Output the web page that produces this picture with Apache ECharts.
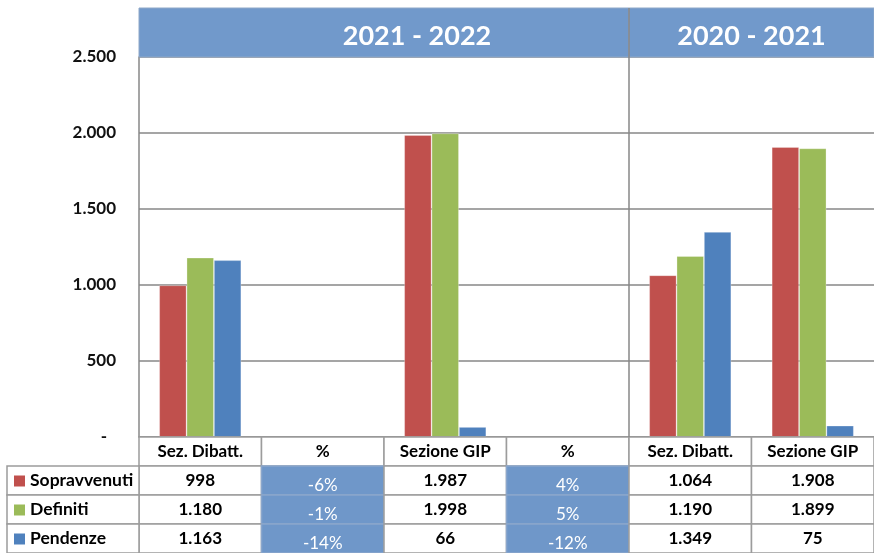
<!DOCTYPE html>
<html>
<head>
<meta charset="utf-8">
<script src="https://cdn.jsdelivr.net/npm/echarts@6/dist/echarts.min.js"></script>
<style>
html,body{margin:0;padding:0;background:#fff;}
#c{width:874px;height:553px;}
</style>
</head>
<body>
<div id="c"></div>
<script>
// ---- data ----
var categories = ['Sez. Dibatt.', '%', 'Sezione GIP', '%', 'Sez. Dibatt.', 'Sezione GIP'];
var seriesNames = ['Sopravvenuti', 'Definiti', 'Pendenze'];
var sopravvenuti = [998, null, 1987, null, 1064, 1908];
var definiti     = [1180, null, 1998, null, 1190, 1899];
var pendenze     = [1163, null, 66, null, 1349, 75];
var pctSopravvenuti = ['-6%', null, '4%', null, null, null];
var pctDefiniti     = ['-1%', null, '5%', null, null, null];
var pctPendenze     = ['-14%', null, '-12%', null, null, null];
var periods = [['2021 - 2022', 0, 3], ['2020 - 2021', 4, 5]];
var yTicks = [0, 500, 1000, 1500, 2000, 2500];

// ---- styles ----
var colors = ['#C0504D', '#9BBB59', '#4F81BD'];
var FONT = 'Lato, "Open Sans", sans-serif';
var headerBlue = '#7199CB';
var cellBlue = '#6F97C9';
var gridColor = '#878787';
var tableBorder = '#9c9c9c';

function fmt(v) {
  if (v === 0) return '-';
  return String(v).replace(/\B(?=(\d{3})+(?!\d))/g, '.');
}

var valueRows = [sopravvenuti, definiti, pendenze];
var pctRows = [pctSopravvenuti, pctDefiniti, pctPendenze];
var tableData = [];
for (var c = 0; c < categories.length; c++) {
  tableData.push([c, 0, categories[c], 'head']);
}
for (var r = 0; r < 3; r++) {
  for (var c2 = 0; c2 < categories.length; c2++) {
    if (categories[c2] === '%') {
      var src = pctRows[r][c2 - 1];
      tableData.push([c2, r + 1, src, 'pct']);
    } else {
      tableData.push([c2, r + 1, fmt(valueRows[r][c2]), 'val']);
    }
  }
}
var legendData = seriesNames.map(function (n, i) { return [0, i + 1, n, i]; });

var chart = echarts.init(document.getElementById('c'), null, {renderer: 'canvas'});

var barSeries = seriesNames.map(function (n, i) {
  return {
    name: n, type: 'bar', xAxisIndex: 0, yAxisIndex: 0,
    data: valueRows[i],
    barGap: '0%', barCategoryGap: '33%',
    itemStyle: {color: colors[i], borderColor: 'rgba(255,255,255,0.35)', borderWidth: 0.8},
    silent: true
  };
});

var option = {
  animation: false,
  backgroundColor: '#fff',
  grid: [
    {left: 139, right: 0, top: 57, height: 380},
    {left: 139, right: 0, top: 437, height: 116}
  ],
  xAxis: [
    {type: 'category', gridIndex: 0, data: categories,
      axisLine: {show: true, lineStyle: {color: gridColor, width: 1.5}},
      axisTick: {show: false}, axisLabel: {show: false}},
    {type: 'category', gridIndex: 1, data: categories, show: false}
  ],
  yAxis: [
    {type: 'value', gridIndex: 0, min: 0, max: 2500, interval: 500,
      axisLine: {show: true, lineStyle: {color: gridColor, width: 1.5}},
      axisTick: {show: false},
      splitLine: {show: true, lineStyle: {color: gridColor, width: 1.5}},
      axisLabel: {formatter: function (v) { return v === 0 ? '{z|-}' : fmt(v); }, margin: 23,
        fontFamily: FONT, fontWeight: 'bold', fontSize: 17, color: '#111',
        rich: {z: {fontFamily: FONT, fontWeight: 'bold', fontSize: 17, color: '#111', padding: [0, 9, 0, 0]}}}},
    {type: 'category', gridIndex: 1, data: ['head'].concat(seriesNames), inverse: true, show: false}
  ],
  series: barSeries.concat([
    {
      type: 'custom', xAxisIndex: 0, yAxisIndex: 0, silent: true, z: 5,
      data: periods.map(function (p) { return [p[1], 2500, p[2], p[0]]; }),
      encode: {x: 0, y: 1},
      renderItem: function (params, api) {
        var s = api.value(0), e = api.value(2);
        var w = api.size([1, 0])[0];
        var p1 = api.coord([s, 2500]);
        var p2 = api.coord([e, 2500]);
        var p0 = api.coord([s, 0]);
        var x0 = p1[0] - w / 2, x1 = p2[0] + w / 2;
        var top = p1[1] - 49;
        var labelOffset = params.dataIndex === 0 ? 33 : 0;
        var children = [
          {type: 'rect', shape: {x: x0, y: top, width: x1 - x0, height: 49},
            style: {fill: headerBlue, stroke: '#8fa8c8', lineWidth: 1}},
          {type: 'text', x: (x0 + x1) / 2 + labelOffset, y: top + 28,
            style: {text: periods[params.dataIndex][0], fill: '#fff', fontFamily: FONT,
              fontWeight: 'bold', fontSize: 27, align: 'center', verticalAlign: 'middle'}}
        ];
        if (params.dataIndex > 0) {
          children.push({type: 'line', shape: {x1: x0, y1: top, x2: x0, y2: p0[1]},
            style: {stroke: gridColor, lineWidth: 1.5}});
        }
        return {type: 'group', children: children};
      }
    },
    {
      type: 'custom', xAxisIndex: 1, yAxisIndex: 1, silent: true, z: 4,
      data: tableData,
      encode: {x: 0, y: 1},
      renderItem: function (params, api) {
        var d = tableData[params.dataIndex];
        var ctr = api.coord([d[0], d[1]]);
        var sz = api.size([1, 1]);
        var x = ctr[0] - sz[0] / 2, y = ctr[1] - sz[1] / 2;
        var isPct = d[3] === 'pct';
        return {type: 'group', children: [
          {type: 'rect', shape: {x: x, y: y, width: sz[0], height: sz[1]},
            style: {fill: isPct ? cellBlue : '#fff', stroke: isPct ? '#8aa6cc' : tableBorder, lineWidth: 1.5}},
          {type: 'text', x: ctr[0], y: ctr[1] + (isPct ? 5 : 0),
            style: {text: d[2] || '', fill: isPct ? '#fff' : '#000', fontFamily: FONT,
              fontWeight: isPct ? 'normal' : 'bold', fontSize: 17,
              align: 'center', verticalAlign: 'middle'}}
        ]};
      }
    },
    {
      type: 'custom', xAxisIndex: 1, yAxisIndex: 1, silent: true, z: 4,
      data: legendData,
      encode: {x: 0, y: 1},
      renderItem: function (params, api) {
        var d = legendData[params.dataIndex];
        var ctr = api.coord([0, d[1]]);
        var sz = api.size([1, 1]);
        var xr = ctr[0] - sz[0] / 2;
        var xl = 7;
        var y = ctr[1] - sz[1] / 2;
        return {type: 'group', children: [
          {type: 'rect', shape: {x: xl, y: y, width: xr - xl, height: sz[1]},
            style: {fill: '#fff', stroke: tableBorder, lineWidth: 1.5}},
          {type: 'rect', shape: {x: xl + 7, y: ctr[1] - 5, width: 11, height: 11},
            style: {fill: colors[d[3]]}},
          {type: 'text', x: xl + 23, y: ctr[1],
            style: {text: d[2], fill: '#000', fontFamily: FONT, fontWeight: 'bold', fontSize: 17.5,
              align: 'left', verticalAlign: 'middle'}}
        ]};
      }
    }
  ])
};
chart.setOption(option);
</script>
</body>
</html>
